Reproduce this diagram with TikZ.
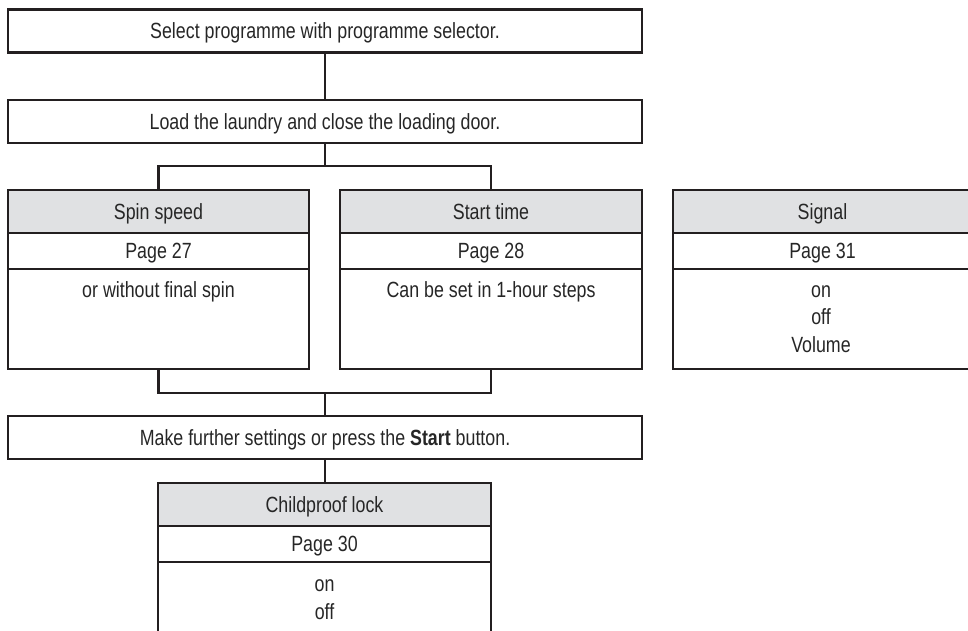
\documentclass[tikz,border=0pt]{standalone}
\usepackage{fontspec}
\setmainfont[FakeStretch=0.81]{Liberation Sans}
\definecolor{linec}{HTML}{231F20}
\definecolor{headc}{HTML}{E0E1E3}
\definecolor{textc}{HTML}{262626}
\begin{document}
\begin{tikzpicture}[x=1pt,y=-1pt,
  every node/.style={font=\fontsize{22}{27.5}\selectfont, text=textc},
  box/.style={draw=linec, line width=2.6pt, rectangle, inner sep=0pt,
     text height=15pt, text depth=0pt, minimum height=#1},
  box/.default=43pt,
  head/.style={box=43pt, fill=headc},
  conn/.style={draw=linec, line width=2.6pt, line join=miter},
  txt/.style={inner sep=0pt, anchor=base}
]
\useasboundingbox (0,0) rectangle (968,630);

% top boxes
\node[box, minimum width=634pt] (sel) at (325,31) {Select programme with programme selector.};
\node[box, minimum width=634pt] (load) at (325,121.5) {Load the laundry and close the loading door.};

% spin speed
\node[head, minimum width=301pt] (spinH) at (158.5,211.5) {Spin speed};
\node[box=36pt, minimum width=301pt] (spinP) at (158.5,251) {Page 27};
\node[box=100pt, minimum width=301pt] (spinB) at (158.5,319) {};
\node[txt] (spinT) at (158.5,297) {or without final spin};

% start time
\node[head, minimum width=302pt] (startH) at (491,211.5) {Start time};
\node[box=36pt, minimum width=302pt] (startP) at (491,251) {Page 28};
\node[box=100pt, minimum width=302pt] (startB) at (491,319) {};
\node[txt] (startT) at (491,297) {Can be set in 1-hour steps};

% signal
\node[head, minimum width=299pt] (sigH) at (822.5,211.5) {Signal};
\node[box=36pt, minimum width=299pt] (sigP) at (822.5,251) {Page 31};
\node[box=100pt, minimum width=299pt] (sigB) at (822.5,319) {};
\node[txt] (sigT1) at (821,297) {on};
\node[txt] (sigT2) at (821,324.5) {off};
\node[txt] (sigT3) at (821,352) {Volume};

% make further settings
\node[box, minimum width=634pt] (make) at (325,437.5) {Make further settings or press the \textbf{Start} button.};

% childproof lock
\node[head, minimum width=333pt] (chH) at (324.5,504.5) {Childproof lock};
\node[box=36pt, minimum width=333pt] (chP) at (324.5,544) {Page 30};
\node[box=110pt, minimum width=333pt] (chB) at (324.5,617) {};
\node[txt] (chT1) at (324.5,591.5) {on};
\node[txt] (chT2) at (324.5,619) {off};

% connectors
\coordinate (j1) at (325,166);
\coordinate (j2) at (325,393);
\draw[conn] (sel.south) -- (load.north);
\draw[conn] (load.south) -- (j1);
\draw[conn] (spinH.north) |- (j1) -| (startH.north);
\draw[conn] (spinB.south) |- (j2) -| (startB.south);
\draw[conn] (j2) -- (make.north);
\draw[conn] (make.south) -- (make.south |- chH.north);
\end{tikzpicture}
\end{document}
